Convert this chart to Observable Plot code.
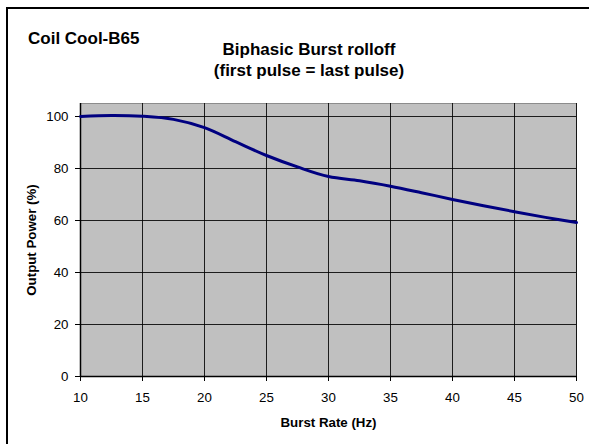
<!DOCTYPE html>
<html>
<head>
<meta charset="utf-8">
<script src="https://cdn.jsdelivr.net/npm/d3@7"></script>
<script src="https://cdn.jsdelivr.net/npm/@observablehq/plot@0.6"></script>
<style>
  html, body { margin: 0; padding: 0; background: #fff; }
  #wrap { position: relative; width: 589px; height: 444px; overflow: hidden; font-family: "Liberation Sans", Arial, sans-serif; color: #000; }
  #border { position: absolute; left: 6px; top: 7px; width: 640px; height: 500px; border: 2px solid #000; box-sizing: border-box; }
  .t { position: absolute; font-weight: bold; white-space: nowrap; line-height: 1; }
  #chart { position: absolute; left: 0; top: 0; }
</style>
</head>
<body>
<div id="wrap">
  <div id="border"></div>
  <div id="chart"></div>
  <div class="t" id="corner" style="left:28px; top:29.6px; font-size:17px;">Coil Cool-B65</div>
  <div class="t" id="title1" style="left:309px; top:40.6px; font-size:17px; transform:translateX(-50%);">Biphasic Burst rolloff</div>
  <div class="t" id="title2" style="left:309px; top:61.6px; font-size:17px; transform:translateX(-50%);">(first pulse = last pulse)</div>
</div>
<script>
const burstRate   = [10, 12.5, 15, 17.5, 20, 22.5, 25, 27.5, 30, 32.5, 35, 37.5, 40, 42.5, 45, 47.5, 50];
const outputPower = [100, 100.4, 100.1, 98.9, 95.7, 90.3, 85.0, 80.6, 76.9, 75.3, 73.2, 70.7, 68.1, 65.7, 63.4, 61.2, 59.2];
const xTicks = [10, 15, 20, 25, 30, 35, 40, 45, 50];
const yTicks = [0, 20, 40, 60, 80, 100];
const xLabel = "Burst Rate (Hz)";
const yLabel = "Output Power (%)";

const data = burstRate.map((x, i) => ({x, y: outputPower[i]}));

const chart = Plot.plot({
  width: 589,
  height: 444,
  marginLeft: 80,
  marginRight: 13,
  marginTop: 103,
  marginBottom: 68,
  style: {fontFamily: "Liberation Sans, Arial, sans-serif", fontSize: "13.3px", color: "#000", background: "transparent", overflow: "visible"},
  x: {domain: [10, 50]},
  y: {domain: [0, 105]},
  marks: [
    Plot.frame({fill: "#c0c0c0", stroke: "#8c8c8c"}),
    Plot.gridX(xTicks, {stroke: "#000", strokeOpacity: 0.85, strokeWidth: 1}),
    Plot.gridY(yTicks, {stroke: "#000", strokeOpacity: 0.85, strokeWidth: 1}),
    Plot.ruleX([10], {stroke: "#000", strokeWidth: 1.5}),
    Plot.ruleY([0], {stroke: "#000", strokeWidth: 1.5}),
    Plot.axisX(xTicks, {tickSize: 5, tickPadding: 11, label: null, fontSize: 13.3}),
    Plot.axisY(yTicks, {tickSize: 5, tickPadding: 7, label: null, fontSize: 13.3}),
    Plot.text([xLabel], {frameAnchor: "bottom", dy: 46, lineAnchor: "middle", fontWeight: "bold", fontSize: 13.3}),
    Plot.text([yLabel], {frameAnchor: "left", dx: -49, rotate: -90, textAnchor: "middle", lineAnchor: "middle", fontWeight: "bold", fontSize: 13.3}),
    Plot.line(data, {x: "x", y: "y", stroke: "#000080", strokeWidth: 3, curve: "catmull-rom"})
  ]
});
document.getElementById("chart").appendChild(chart);
</script>
</body>
</html>
